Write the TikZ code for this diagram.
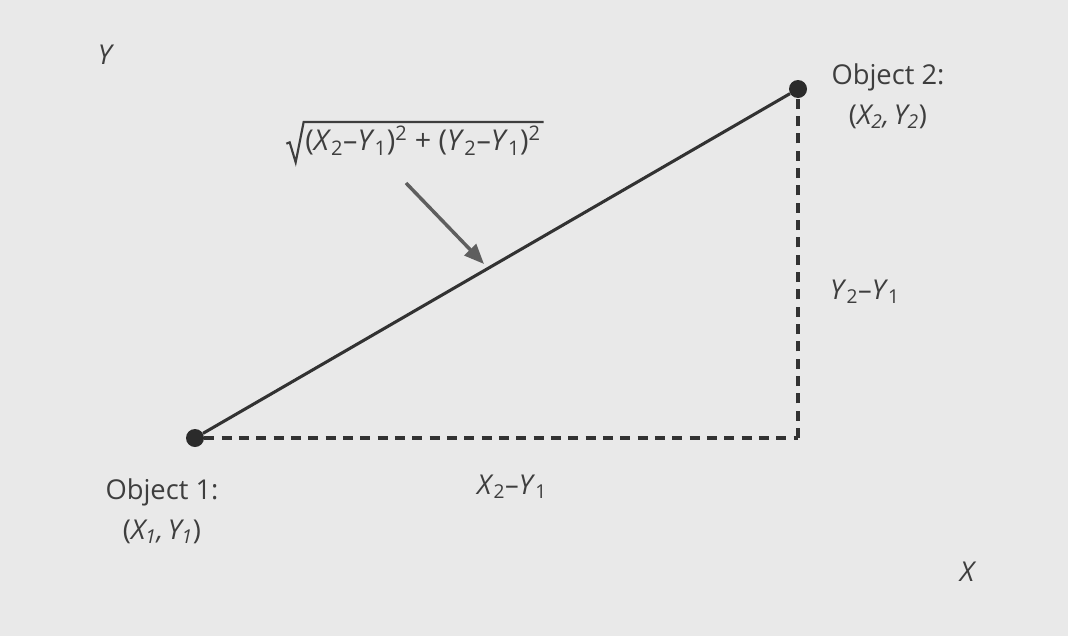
\documentclass[tikz,border=0pt]{standalone}
\usepackage{fontspec}
\setmainfont{Open Sans}
\usetikzlibrary{arrows.meta}
\definecolor{bg}{HTML}{E9E9E9}
\definecolor{ink}{HTML}{3E3E3E}
\definecolor{arr}{HTML}{5E5E5E}
\tikzset{
  lbl/.style={text=ink, font=\fontsize{20.5}{30}\selectfont, inner sep=0pt, align=center},
  dot/.style={circle, fill=ink!70!black, minimum size=13.5pt, inner sep=0pt},
  dashline/.style={ink!80!black, line width=2.4pt, dash pattern=on 7.5pt off 5.5pt},
  solidline/.style={ink!80!black, line width=2.3pt},
}
\newcommand{\mysub}[1]{\textsubscript{#1}}
\newcommand{\mysup}[1]{\textsuperscript{#1}}
\begin{document}
\begin{tikzpicture}[x=0.75pt,y=-0.75pt]
\fill[bg] (0,0) rectangle (1068,636);
\useasboundingbox (0,0) rectangle (1068,636);
\node[dot] (o1) at (195,438) {};
\node[dot] (o2) at (798,89) {};
\coordinate (c) at (798,438);
\draw[dashline] (o1) -- (c);
\draw[dashline] (c) -- (o2);
\draw[solidline] (o1) -- (o2);
\node[lbl] (t2) at (888,96) {Object 2:\\(\textit{X\mysub{2},\,Y\mysub{2}})};
\node[lbl] (t1) at (162,511) {Object 1:\\(\textit{X\mysub{1},\,Y\mysub{1}})};
\node[lbl] (ylab) at (106,55) {\textit{Y}};
\node[lbl] (xlab) at (968,572) {\textit{X}};
\node[lbl] (dy) at (865,292) {\textit{Y}\mysub{2}–\textit{Y}\mysub{1}};
\node[lbl] (dx) at (512,487) {\textit{X}\mysub{2}–\textit{Y}\mysub{1}};
\node[lbl, anchor=west, font=\fontsize{21.5}{30}\selectfont] (f) at (305,141) {(\textit{X}\mysub{2}–\textit{Y}\mysub{1})\mysup{2} + (\textit{Y}\mysub{2}–\textit{Y}\mysub{1})\mysup{2}};
\draw[ink, line width=1.6pt, line join=miter] ([xshift=-14pt,yshift=-2pt]f.west) -- ([xshift=-11.5pt,yshift=-1pt]f.west) -- ([xshift=-7pt,yshift=-16pt]f.west) -- ([xshift=-1pt,yshift=3pt]f.north west) -- ([xshift=2pt,yshift=3pt]f.north east);
\coordinate (a1) at (406,183);
\coordinate (a2) at (484,264);
\draw[arr, line width=2.6pt, -{Triangle[length=15pt,width=12pt]}] (a1) -- (a2);
\end{tikzpicture}
\end{document}
